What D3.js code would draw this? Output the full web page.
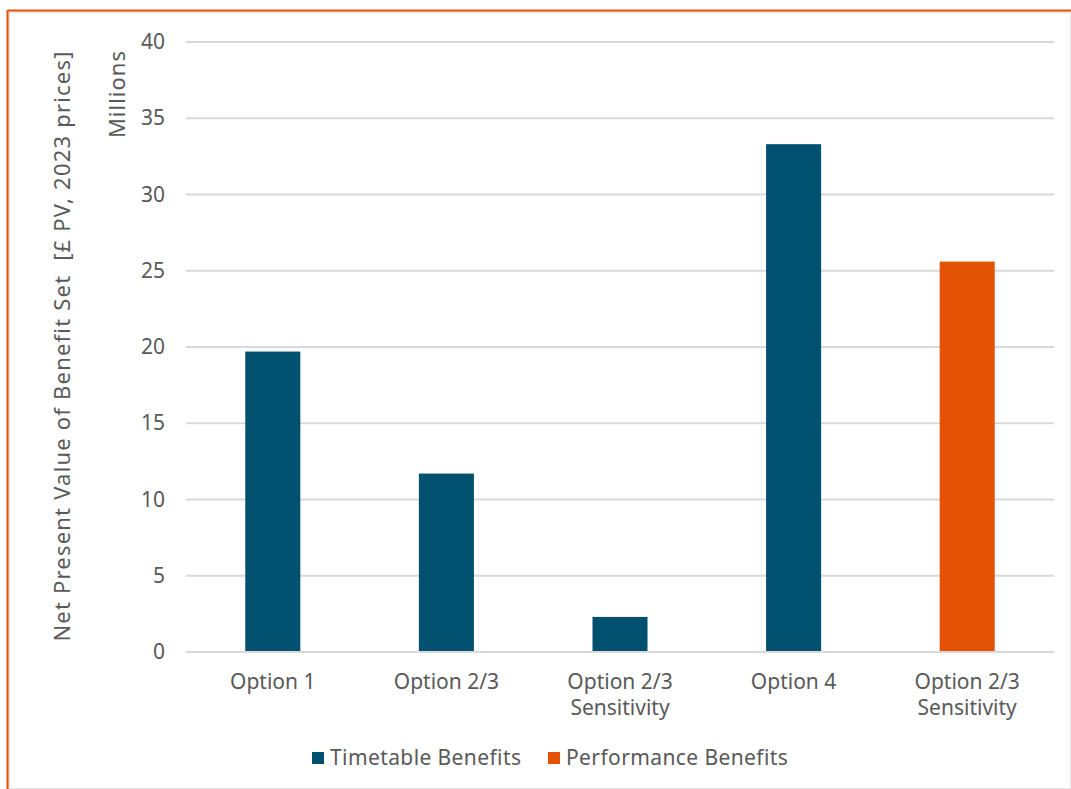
<!DOCTYPE html>
<html>
<head>
<meta charset="utf-8">
<script src="https://cdn.jsdelivr.net/npm/d3@7"></script>
<style>
  html, body { margin: 0; padding: 0; background: #fff; }
  svg { display: block; font-family: "Noto Sans", Lato, sans-serif; }
</style>
</head>
<body>
<svg id="chart" width="1071" height="789"></svg>
<script>
// Benefit values, £ millions (2023 prices, present value)
const categories = ["Option 1", "Option 2/3", "Option 2/3\nSensitivity", "Option 4", "Option 2/3\nSensitivity"];
const values = [19.7, 11.7, 2.3, 33.3, 25.6];
const seriesOf = ["Timetable Benefits", "Timetable Benefits", "Timetable Benefits", "Timetable Benefits", "Performance Benefits"];
const seriesNames = ["Timetable Benefits", "Performance Benefits"];
const seriesColors = ["#00506F", "#E35205"];
const yTicks = [0, 5, 10, 15, 20, 25, 30, 35, 40];

const svg = d3.select("#chart");
const textColor = "#595959";

// Frame
svg.append("rect").attr("x", 9).attr("y", 12).attr("width", 1062).attr("height", 777)
  .attr("fill", "none").attr("stroke", "#e4e4e4").attr("stroke-width", 2);
svg.append("line").attr("x1", 8).attr("x2", 1071).attr("y1", 10.5).attr("y2", 10.5)
  .attr("stroke", "#E35205").attr("stroke-width", 2);
svg.append("line").attr("x1", 7.5).attr("x2", 7.5).attr("y1", 10).attr("y2", 789)
  .attr("stroke", "#E35205").attr("stroke-width", 2);

const plot = { left: 186, right: 1054, top: 42, bottom: 652 };

const x = d3.scaleBand()
  .domain(d3.range(categories.length))
  .range([plot.left, plot.right])
  .paddingInner(0.683)
  .paddingOuter(0.3415);

const y = d3.scaleLinear().domain([0, 40]).range([plot.bottom, plot.top]);

const color = d3.scaleOrdinal().domain(seriesNames).range(seriesColors);

// Gridlines
svg.append("g").selectAll("line").data(yTicks).join("line")
  .attr("x1", plot.left).attr("x2", plot.right)
  .attr("y1", d => y(d)).attr("y2", d => y(d))
  .attr("stroke", "#d9d9d9").attr("stroke-width", 2);

// Y axis tick labels
const yAxis = svg.append("g")
  .attr("transform", `translate(${plot.left},0)`)
  .call(d3.axisLeft(y).tickValues(yTicks).tickSize(0).tickPadding(21).tickFormat(d3.format("d")));
yAxis.select(".domain").remove();
yAxis.selectAll("text").attr("fill", textColor).style("font-size", "21px")
  .style("font-family", "'Noto Sans', Lato, sans-serif");

// Bars
svg.append("g").selectAll("rect").data(values).join("rect")
  .attr("x", (d, i) => x(i))
  .attr("width", x.bandwidth())
  .attr("y", d => y(d))
  .attr("height", d => y(0) - y(d))
  .attr("fill", (d, i) => color(seriesOf[i]));

// Baseline
svg.append("line").attr("x1", plot.left).attr("x2", plot.right)
  .attr("y1", y(0)).attr("y2", y(0)).attr("stroke", "#d9d9d9").attr("stroke-width", 2);

// Category labels
const xl = svg.append("g");
categories.forEach((c, i) => {
  const t = xl.append("text")
    .attr("text-anchor", "middle")
    .attr("fill", textColor)
    .style("font-size", "21px");
  c.split("\n").forEach((line, j) => {
    t.append("tspan")
      .attr("x", x(i) + x.bandwidth() / 2)
      .attr("y", 689 + j * 26)
      .text(line);
  });
});

// Axis titles
svg.append("text")
  .attr("transform", "translate(70,346) rotate(-90)")
  .attr("text-anchor", "middle")
  .attr("fill", textColor)
  .style("font-size", "22px")
  .style("letter-spacing", "1.2px")
  .style("white-space", "pre")
  .text("Net Present Value of Benefit Set  [£ PV, 2023 prices]");

svg.append("text")
  .attr("transform", "translate(125,50) rotate(-90)")
  .attr("text-anchor", "end")
  .attr("fill", textColor)
  .style("font-size", "22px")
  .style("letter-spacing", "1px")
  .text("Millions");

// Legend
const legendX = [312, 548];
const legend = svg.append("g");
seriesNames.forEach((name, i) => {
  legend.append("rect")
    .attr("x", legendX[i]).attr("y", 752)
    .attr("width", 12).attr("height", 12)
    .attr("fill", color(name));
  legend.append("text")
    .attr("x", legendX[i] + 18).attr("y", 765)
    .attr("fill", textColor)
    .style("font-size", "21px")
    .style("letter-spacing", "0.4px")
    .text(name);
});
</script>
</body>
</html>
